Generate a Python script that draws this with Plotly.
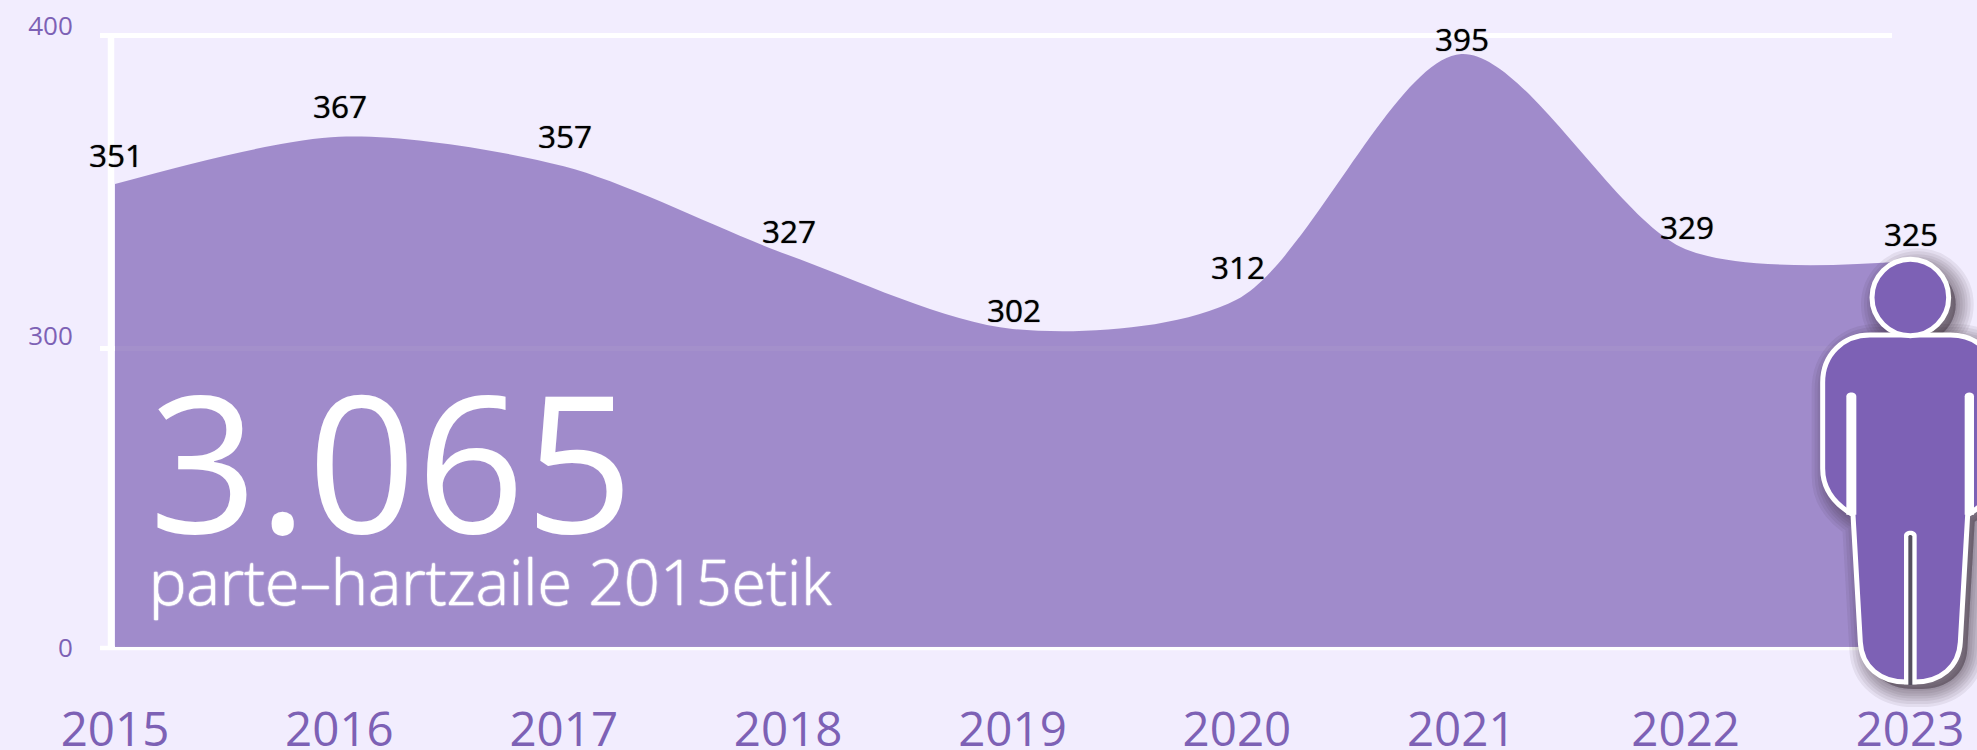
import plotly.graph_objects as go

years = [2015, 2016, 2017, 2018, 2019, 2020, 2021, 2022, 2023]
participants = [351, 367, 357, 327, 302, 312, 395, 329, 325]
label_lift = [30, 31, 31, 25, 20, 33, 16, 23, 27]
y_tick_labels = ["400", "300", "0"]
total_text = "3.065"
sub_text = "parte–hartzaile 2015etik"

W, H = 1977, 750
BG = "#F2EDFE"
PURPLE = "#7D61B5"
FILL = "rgba(125,97,181,0.7)"
L, PLOT_H = 100, 660
PX_PER_YEAR = 224.375
K = 2.957


def val(py):
    return 302 + (329 - py) / K


def xval(px):
    return 2015 + (px - 115) / PX_PER_YEAR


def pp(px, py):
    return (px - L) / (W - L), 1 - py / PLOT_H


def zoomed(x, y, dx=0, dy=0):
    a, b = pp(1750 + x / 3 + dx, 200 + y / 2.85 + dy)
    return f"{a:.5f},{b:.5f}"


def body_path(dx=0, dy=0):
    z = lambda x, y: zoomed(x, y, dx, dy)
    return (
        f"M{z(360,385)} C{z(280,385)} {z(218,440)} {z(218,520)} L{z(218,765)} "
        f"C{z(218,830)} {z(260,870)} {z(309,897)} L{z(331,1260)} "
        f"C{z(335,1330)} {z(390,1374)} {z(470,1374)} L{z(492,1374)} "
        f"C{z(572,1374)} {z(627,1330)} {z(631,1260)} L{z(653,897)} "
        f"C{z(702,870)} {z(744,830)} {z(744,765)} L{z(744,520)} "
        f"C{z(744,440)} {z(682,385)} {z(602,385)} Z"
    )


def head_path(dx=0, dy=0):
    z = lambda x, y: zoomed(x, y, dx, dy)
    c, m, r, ry = 481, 278, 115, 109
    q, qy = r * 0.55, ry * 0.55
    return (
        f"M{z(c-r,m)} C{z(c-r,m-qy)} {z(c-q,m-ry)} {z(c,m-ry)} C{z(c+q,m-ry)} {z(c+r,m-qy)} {z(c+r,m)} "
        f"C{z(c+r,m+qy)} {z(c+q,m+ry)} {z(c,m+ry)} C{z(c-q,m+ry)} {z(c-r,m+qy)} {z(c-r,m)} Z"
    )


def slit_path(xc, hw, top, bottom):
    z = zoomed
    return (
        f"M{z(xc-hw,bottom)} L{z(xc-hw,top+hw)} C{z(xc-hw,top)} {z(xc+hw,top)} {z(xc+hw,top+hw)} "
        f"L{z(xc+hw,bottom)} Z"
    )


shapes = []
for py, w in [(35.5, 5), (348.5, 5), (648, 4.5)]:
    shapes.append(dict(type="line", layer="below", xref="x", yref="y",
                       x0=xval(99.5), x1=xval(1892), y0=val(py), y1=val(py),
                       line=dict(color="white", width=w)))
shapes.append(dict(type="line", layer="below", xref="x", yref="y",
                   x0=xval(111), x1=xval(111), y0=val(33), y1=val(650),
                   line=dict(color="white", width=6.5)))
for sw in [36, 30, 24, 19, 14, 9, 4]:
    for p in (body_path(7, 7), head_path(7, 7)):
        shapes.append(dict(type="path", xref="paper", yref="paper", path=p, layer="above",
                           fillcolor="rgba(45,42,55,0.08)",
                           line=dict(color="rgba(45,42,55,0.08)", width=sw)))
shapes.append(dict(type="path", xref="paper", yref="paper", path=body_path(), layer="above",
                   fillcolor=PURPLE, line=dict(color="white", width=5)))
shapes.append(dict(type="path", xref="paper", yref="paper", path=head_path(), layer="above",
                   fillcolor=PURPLE, line=dict(color="white", width=5)))
for p, col in [(slit_path(304, 15, 545, 897), "white"),
               (slit_path(658, 14, 545, 897), "white"),
               (slit_path(481, 19, 938, 1380), "white"),
               (slit_path(481, 6, 953, 1382), "#55505F")]:
    shapes.append(dict(type="path", xref="paper", yref="paper", path=p, layer="above",
                       fillcolor=col, line=dict(width=0)))

fig = go.Figure()
fig.add_trace(go.Scatter(x=years, y=[val(647)] * len(years), mode="lines",
                         line=dict(width=0), hoverinfo="skip", showlegend=False))
fig.add_trace(go.Scatter(x=years, y=participants, mode="lines", fill="tonexty",
                         fillcolor=FILL, line=dict(width=0, shape="spline", smoothing=0.85),
                         showlegend=False))

annotations = []
for yr, v, lift in zip(years, participants, label_lift):
    annotations.append(dict(x=yr, y=v, text=str(v), showarrow=False, xanchor="center", yanchor="middle",
                            xshift=1, yshift=lift,
                            font=dict(family="Open Sans", size=31.5, color="black", weight=400,
                                      shadow="0 0 1px rgba(0,0,0,0.8)")))
a, b = pp(148, 532)
annotations.append(dict(xref="paper", yref="paper", x=a, y=b, text=total_text, showarrow=False,
                        xanchor="left", yanchor="bottom", yshift=-58, borderpad=0,
                        font=dict(family="Open Sans", size=190, color="white", weight=400)))
a, b = pp(148, 605)
annotations.append(dict(xref="paper", yref="paper", x=a, y=b, text=sub_text, showarrow=False,
                        xanchor="left", yanchor="bottom", yshift=-19, borderpad=0,
                        font=dict(family="Open Sans", size=62.8, color="white", weight=300,
                                  shadow="0 0 1.5px white, 0 0 1.5px white, 0 0 1px white")))

fig.update_layout(
    template=None,
    width=W, height=H, autosize=False,
    margin=dict(l=L, r=0, t=0, b=H - PLOT_H, pad=0, autoexpand=False),
    paper_bgcolor=BG, plot_bgcolor="rgba(0,0,0,0)",
    showlegend=False, shapes=shapes, annotations=annotations,
    xaxis=dict(automargin=False, range=[xval(100), xval(1977)], tickvals=years, ticktext=[str(y) for y in years],
               showgrid=False, zeroline=False, showline=False, ticks="outside", ticklen=28,
               tickcolor="rgba(0,0,0,0)",
               tickfont=dict(family="Open Sans", size=47.5, color=PURPLE, weight=400)),
    yaxis=dict(automargin=False, range=[val(660), val(0)], tickvals=[val(25.5), val(336), val(647.5)],
               ticktext=y_tick_labels, showgrid=False, zeroline=False, showline=False,
               ticks="outside", ticklen=21, tickcolor="rgba(0,0,0,0)",
               tickfont=dict(family="Open Sans", size=26, color=PURPLE, weight=400)),
)
fig.write_html("out.html", config=dict(displayModeBar=False),
               post_script="document.body.style.margin='0';document.body.style.background='" + BG + "';"
                           "document.documentElement.style.overflow='hidden';")
